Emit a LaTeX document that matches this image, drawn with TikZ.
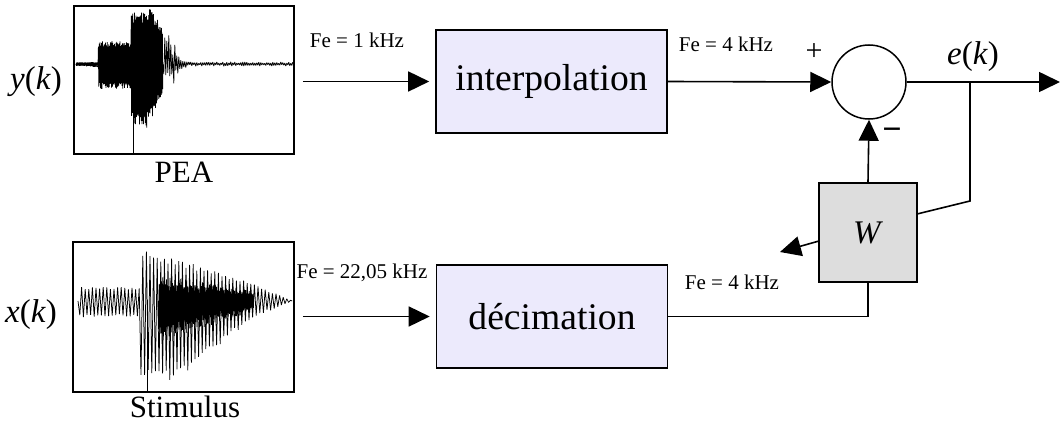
\documentclass[tikz,border=0pt]{standalone}
\usepackage{fontspec}
\setmainfont{Liberation Serif}
\usetikzlibrary{arrows.meta,calc}
\definecolor{lav}{RGB}{236,234,252}
\definecolor{wgray}{RGB}{221,221,221}
\pgfmathdeclarefunction{peaup}{1}{\pgfmathparse{(#1<98)*1.8+(#1>=98)*(#1<131)*23+(#1>=131)*(#1<150)*55+(#1>=150)*(#1<186)*max(2,55-(#1-150)*1.4)+(#1>=186)*2.2}}
\pgfmathdeclarefunction{peadn}{1}{\pgfmathparse{(#1<98)*1.8+(#1>=98)*(#1<131)*25+(#1>=131)*(#1<149)*64+(#1>=149)*(#1<160)*(64-(#1-149)*2.5)+(#1>=160)*(#1<188)*max(2,36-(#1-160)*1.15)+(#1>=188)*2.2}}
\pgfmathdeclarefunction{stup}{1}{\pgfmathparse{(#1<141)*14+(#1>=141)*(#1<150)*51+(#1>=150)*(#1<250)*(51-(#1-150)*0.31)+(#1>=250)*max(0,19-(#1-250)*0.45)}}
\pgfmathdeclarefunction{stdn}{1}{\pgfmathparse{(#1<141)*16+(#1>=141)*(#1<175)*80+(#1>=175)*(#1<255)*(80-(#1-175)*0.8)+(#1>=255)*max(0,16-(#1-255)*0.43)}}
\tikzset{
  box/.style={draw, line width=1.6pt, fill=lav, minimum width=231pt, minimum height=103pt, inner sep=0pt, font=\fontsize{37.6}{40}\selectfont},
  sigbox/.style={draw, line width=1.6pt, inner sep=0pt},
  conn/.style={line width=1.6pt},
  arr/.style={conn, -{Triangle[length=21pt,width=20pt]}},
  fe/.style={font=\fontsize{21}{24}\selectfont, inner sep=0pt},
  lbl/.style={font=\fontsize{31}{34}\selectfont, inner sep=0pt},
  var/.style={font=\fontsize{33}{36}\selectfont, inner sep=0pt},
  wave/.style={line width=0.75pt, line join=bevel}
}
\begin{document}
\begin{tikzpicture}[x=1pt,y=-1pt]
\path[use as bounding box] (0,0) rectangle (1061,423);
% signal boxes
\node[sigbox, minimum width=220pt, minimum height=148pt] (pea) at (184,80) {};
\node[sigbox, minimum width=221pt, minimum height=150pt] (stim) at (183.5,317) {};
% waveforms
\pgfmathsetseed{11}
\draw[wave] (76,64) \foreach \i in {1,...,217} { -- ({76+\i*0.4},{64+ifthenelse(isodd(\i),peadn(76+\i*0.4),-peaup(76+\i*0.4))*(0.75+0.25*rnd)}) };
\draw[wave] (162.8,64) \foreach \i in {1,...,130} { -- ({162.8+\i*1},{64+ifthenelse(isodd(\i),peadn(162.8+\i),-peaup(162.8+\i))*(0.3+0.7*rnd)}) };
\draw[wave] (76,64) \foreach \i in {1,...,110} { -- ({76+\i*0.2},{64+ifthenelse(isodd(\i),1,-1)*1.2*rnd+0.02*\i}) };
\draw[wave] (133,63) -- (133,153);
\draw[wave] (78,301) \foreach \i in {1,...,119} { -- ({78+\i*1.8},{301+ifthenelse(isodd(\i),stdn(78+\i*1.8),-stup(78+\i*1.8))*(0.82+0.18*rnd)}) };
\draw[wave] (158,301) \foreach \i in {1,...,160} { -- ({158+\i*0.6},{301+ifthenelse(isodd(\i),42-\i*0.2,-(26-\i*0.1))*(0.6+0.4*rnd)}) };
\draw[wave] (147,300) -- (147,391);
% labels of signals
\node[var] (ylab) at (36,82) {\textit{y}(\textit{k})};
\node[var] (xlab) at (31,315) {\textit{x}(\textit{k})};
\node[lbl] (pealab) at (184,172) {PEA};
\node[lbl] (stimlab) at (185,407) {Stimulus};
% blocks
\node[box] (interp) at (551.5,81.5) {interpolation};
\node[box] (decim) at (552,316.5) {décimation};
\node[draw, circle, line width=1.5pt, minimum size=74pt, inner sep=0pt] (sum) at (869,82) {};
\node[draw, line width=1.6pt, fill=wgray, minimum width=98pt, minimum height=99pt, inner sep=0pt, font=\fontsize{33}{36}\selectfont] (W) at (868,232.5) {\textit{W}};
% coordinates
\coordinate (out) at (1060,82);
\coordinate (br) at (970,82);
\coordinate (brLow) at (970,201);
\coordinate (wIn) at (917,214);
\coordinate (wOut) at (819,241);
\coordinate (wTip) at (780,252);
% connectors
\draw[arr, shorten <=8pt, shorten >=6pt] (pea.east |- interp.west) -- (interp.west);
\draw[arr, shorten <=8pt, shorten >=6pt] (stim.east |- decim.west) -- (decim.west);
\draw[arr] (interp.east) -- (sum.west);
\draw[arr] (sum.east) -- (out);
\draw[conn] (br) -- (brLow) -- (wIn);
\draw[arr] (W.north) -- (sum.south);
\draw[arr] (wOut) -- (wTip);
\draw[conn] (decim.east) -| (W.south);
% rate labels
\node[fe] (fe1) at (357,40) {Fe = 1 kHz};
\node[fe] (fe2) at (726,44) {Fe = 4 kHz};
\node[fe] (fe3) at (362,273) {Fe = 22,05 kHz};
\node[fe] (fe4) at (732,282) {Fe = 4 kHz};
\node[font=\fontsize{30}{32}\selectfont, inner sep=0pt] (plus) at (814,52) {+};
\node[font=\fontsize{34}{36}\selectfont\bfseries, inner sep=0pt] (minus) at (892,134) {−};
\node[var] (elab) at (973,57) {\textit{e}(\textit{k})};
\end{tikzpicture}
\end{document}
